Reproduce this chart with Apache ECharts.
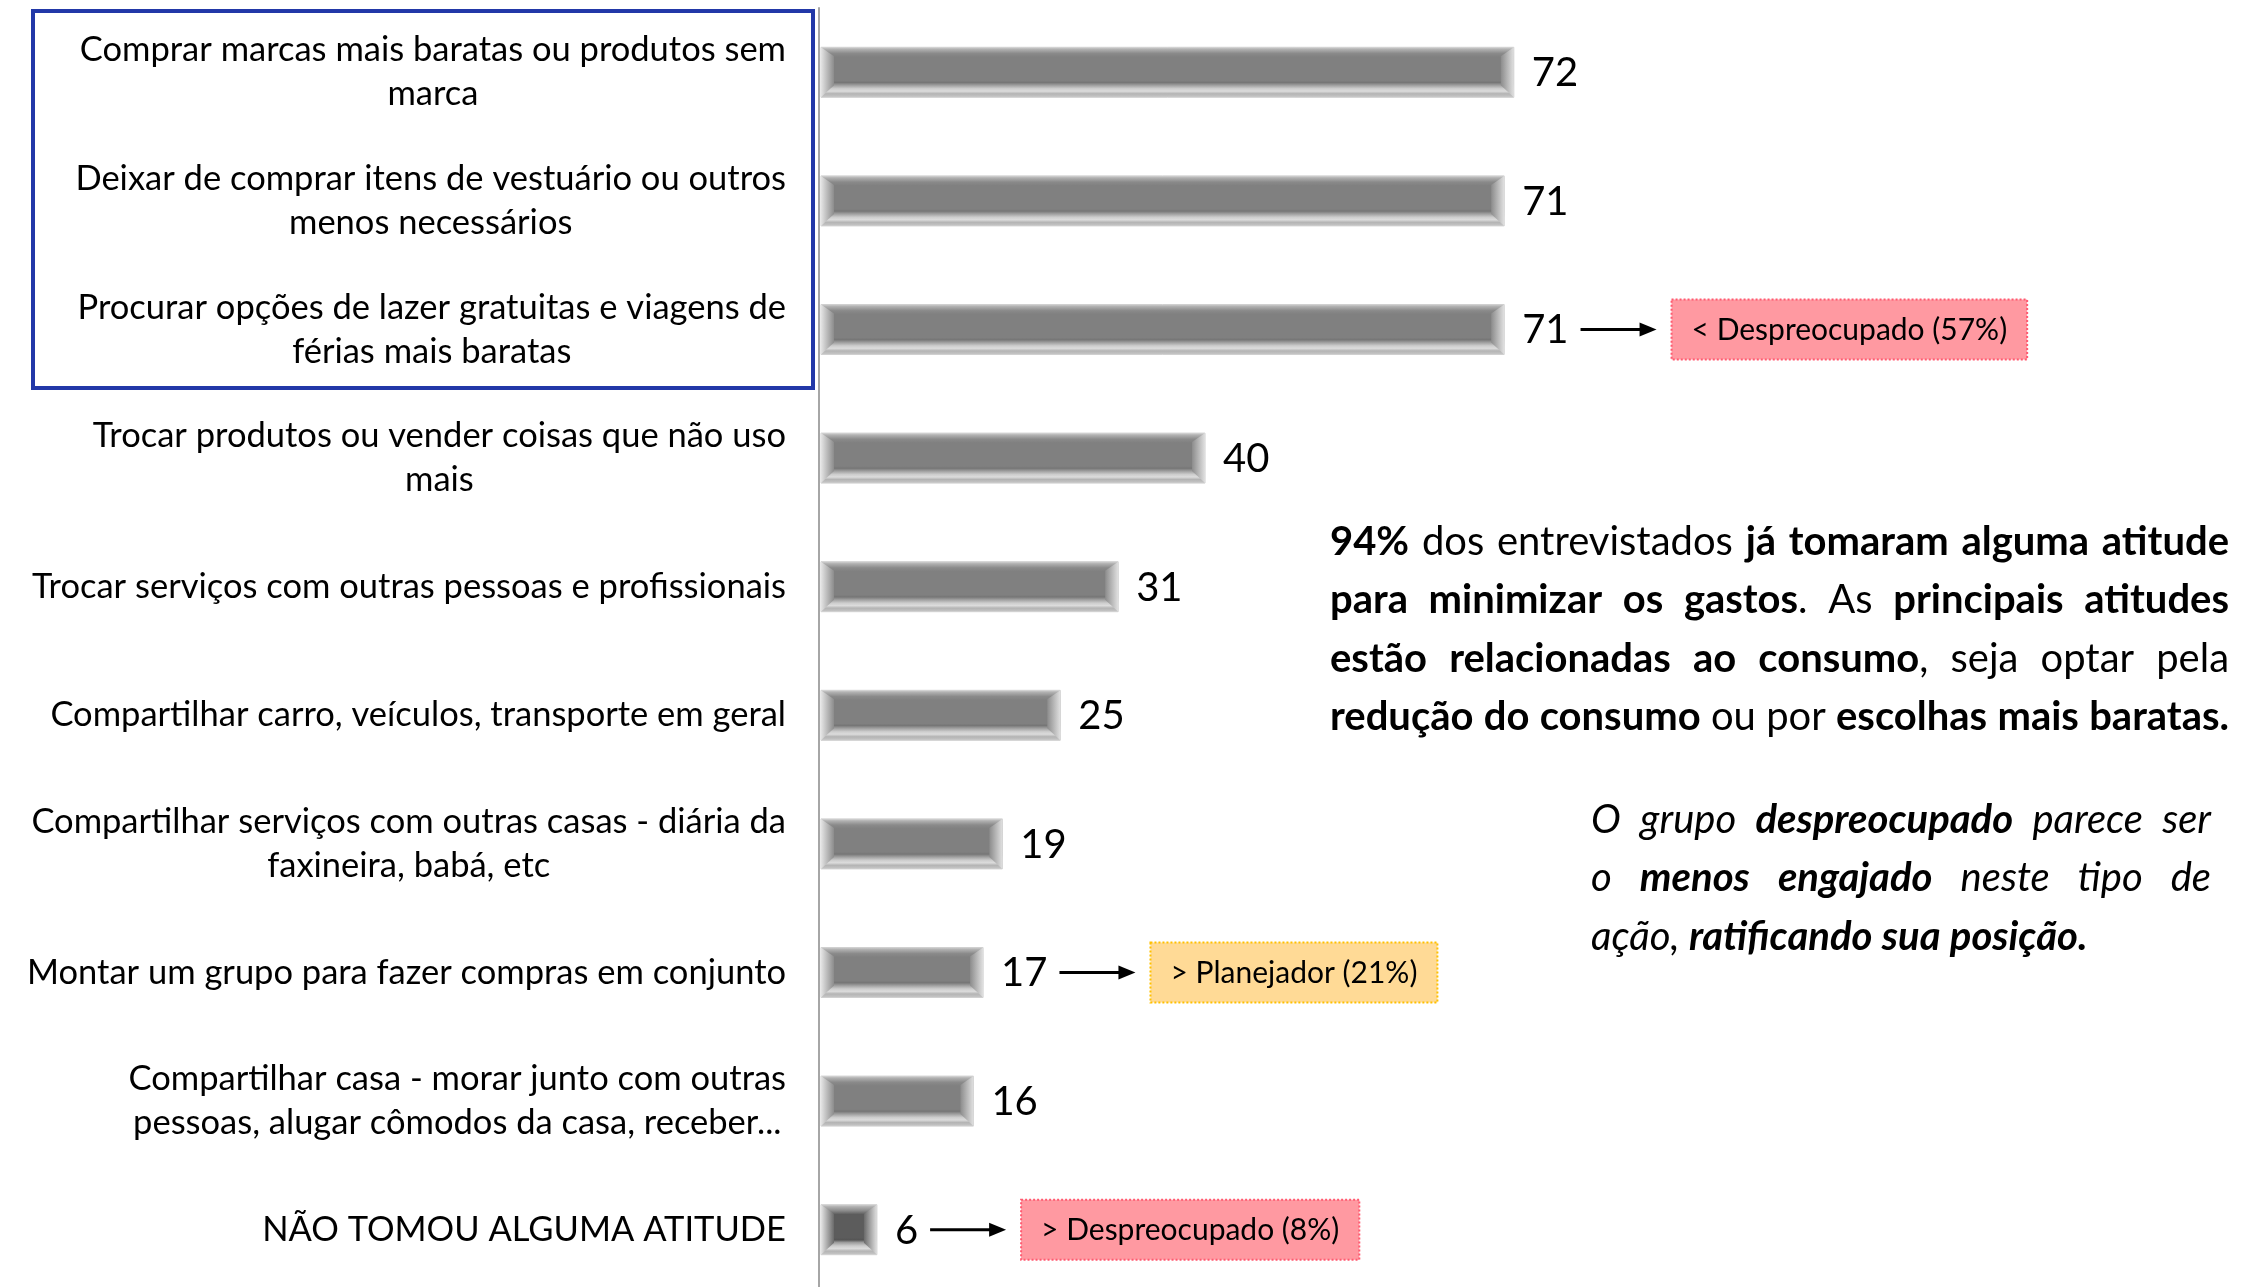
<!DOCTYPE html>
<html><head><meta charset="utf-8">
<script src="https://cdn.jsdelivr.net/npm/echarts@6/dist/echarts.min.js"></script>
<style>html,body{margin:0;padding:0;background:#fff}#c{width:2254px;height:1287px}</style>
</head><body><div id="c"></div>
<script>
const categories = [
  'Comprar marcas mais baratas ou produtos sem\nmarca',
  'Deixar de comprar itens de vestuário ou outros\nmenos necessários',
  'Procurar opções de lazer gratuitas e viagens de\nférias mais baratas',
  'Trocar produtos ou vender coisas que não uso\nmais',
  'Trocar serviços com outras pessoas e profissionais',
  'Compartilhar carro, veículos, transporte em geral',
  'Compartilhar serviços com outras casas - diária da\nfaxineira, babá, etc',
  'Montar um grupo para fazer compras em conjunto',
  'Compartilhar casa - morar junto com outras\npessoas, alugar cômodos da casa, receber...',
  'NÃO TOMOU ALGUMA ATITUDE'
];
const values = [72, 71, 71, 40, 31, 25, 19, 17, 16, 6];
const noteIndex = [2, 7, 9];
const noteText = ['< Despreocupado (57%)', '> Planejador (21%)', '> Despreocupado (8%)'];
const noteKind = ['pink', 'yellow', 'pink'];
const para1 = [
  '*94%* dos entrevistados *já tomaram alguma atitude*',
  '*para minimizar os gastos*. As *principais atitudes*',
  '*estão relacionadas ao consumo*, seja optar pela',
  '*redução do consumo* ou por *escolhas mais baratas.*'
];
const para2 = [
  'O grupo *despreocupado* parece ser',
  'o *menos engajado* neste tipo de',
  'ação, *ratificando sua posição.*'
];

const FONT = 'Lato, "Open Sans", sans-serif';
const mctx = document.createElement('canvas').getContext('2d');
function tw(t, f) { mctx.font = f; return mctx.measureText(t).width; }
function fontStr(size, bold, italic) { return (italic ? 'italic ' : '') + (bold ? 'bold ' : '') + size + 'px ' + FONT; }

const noteStyles = {
  pink: { fill: '#ff99a1', stroke: '#ff5a70' },
  yellow: { fill: '#ffda96', stroke: '#ffc000' }
};

function barGrad(dark) {
  const c = dark ? '#5c5c5c' : '#808080';
  const d = dark ? '#555555' : '#767676';
  return new echarts.graphic.LinearGradient(0, 0, 0, 1, [
    { offset: 0, color: '#d8d8d8' }, { offset: 0.05, color: '#b0b0b0' },
    { offset: 0.13, color: '#8a8a8a' }, { offset: 0.2, color: c },
    { offset: 0.66, color: c }, { offset: 0.7, color: d },
    { offset: 0.75, color: '#9c9c9c' }, { offset: 0.82, color: '#cdcdcd' },
    { offset: 0.87, color: '#dcdcdc' }, { offset: 0.92, color: '#b4b4b4' },
    { offset: 1, color: '#cacaca' }
  ]);
}
function hGrad(a, b) {
  return new echarts.graphic.LinearGradient(0, 0, 1, 0, [{ offset: 0, color: a }, { offset: 1, color: b }]);
}

function renderItem(params, api) {
  const v = api.value(0), idx = api.value(1);
  const s = api.coord([0, idx]), e = api.coord([v, idx]);
  const yc = s[1], half = 25;
  const x0 = s[0] + 2, x1 = e[0], y0 = yc - half, y1 = yc + half;
  const w = x1 - x0, h = y1 - y0;
  const dark = w < 90;
  const bw = 13, bt = 5, bb = 12;
  const ch = [];
  ch.push({ type: 'rect', shape: { x: x0, y: y0, width: w, height: h }, style: { fill: barGrad(dark), stroke: '#d0d0d0', lineWidth: 1 } });
  ch.push({ type: 'polygon', shape: { points: [[x0, y0], [x0 + bw, y0 + bt + 4], [x0 + bw, y1 - bb], [x0, y1]] },
    style: { fill: hGrad('#e4e4e4', dark ? '#6a6a6a' : '#8c8c8c') } });
  ch.push({ type: 'polygon', shape: { points: [[x1, y0], [x1 - bw, y0 + bt + 4], [x1 - bw, y1 - bb], [x1, y1]] },
    style: { fill: hGrad(dark ? '#6a6a6a' : '#8c8c8c', '#e0e0e0') } });
  const vf = fontStr(40, false, false);
  const lx = x1 + 18;
  ch.push({ type: 'text', x: lx, y: yc + 1, style: { text: String(v), font: vf, fill: '#000', align: 'left', textAlign: 'left', verticalAlign: 'middle', textVerticalAlign: 'middle' } });
  const ni = noteIndex.indexOf(params.dataIndex);
  if (ni >= 0) {
    const ax0 = lx + tw(String(v), vf) + 12, ax1 = ax0 + 76;
    ch.push({ type: 'line', shape: { x1: ax0, y1: yc, x2: ax1 - 12, y2: yc }, style: { stroke: '#000', lineWidth: 3 } });
    ch.push({ type: 'polygon', shape: { points: [[ax1 - 17, yc - 7], [ax1, yc], [ax1 - 17, yc + 7]] }, style: { fill: '#000' } });
    const nf = fontStr(30, false, false);
    const tW = tw(noteText[ni], nf);
    const bx = ax1 + 15, bwid = tW + 40;
    const st = noteStyles[noteKind[ni]];
    ch.push({ type: 'rect', shape: { x: bx, y: yc - 30, width: bwid, height: 60 }, style: { fill: st.fill, stroke: st.stroke, lineWidth: 2, lineDash: [2, 2] } });
    ch.push({ type: 'text', x: bx + bwid / 2, y: yc + 1, style: { text: noteText[ni], font: nf, fill: '#000', align: 'center', textAlign: 'center', verticalAlign: 'middle', textVerticalAlign: 'middle' } });
  }
  return { type: 'group', children: ch };
}

function parseLine(line, size, italic) {
  let bold = false;
  return line.split(' ').map(wd => {
    const pieces = []; let cur = '';
    for (const c of wd) {
      if (c === '*') { if (cur) pieces.push({ t: cur, b: bold }); cur = ''; bold = !bold; }
      else cur += c;
    }
    if (cur) pieces.push({ t: cur, b: bold });
    pieces.forEach(p => { p.font = fontStr(size, p.b, italic); p.w = tw(p.t, p.font); });
    return { pieces, w: pieces.reduce((a, p) => a + p.w, 0) };
  });
}
function naturalWidth(line, size, italic) {
  const ws = parseLine(line, size, italic);
  return ws.reduce((a, w) => a + w.w, 0) + (ws.length - 1) * tw(' ', fontStr(size, false, italic));
}
function fitSize(line, italic, target) {
  return 100 * target / naturalWidth(line, 100, italic);
}

function buildPara(lines, x0, x1, yStart, lh, size, italic, justifyLast) {
  const els = [];
  lines.forEach((line, li) => {
    const words = parseLine(line, size, italic);
    const total = words.reduce((a, w) => a + w.w, 0);
    const isLast = li === lines.length - 1;
    const sp = tw(' ', fontStr(size, false, italic));
    const gap = (isLast && !justifyLast) ? sp : Math.max(sp * 0.6, (x1 - x0 - total) / (words.length - 1));
    let x = x0; const y = yStart + li * lh;
    words.forEach(w => {
      w.pieces.forEach(p => {
        els.push({ type: 'text', x: x, y: y, style: { text: p.t, font: p.font, fill: '#000', verticalAlign: 'middle', textVerticalAlign: 'middle' } });
        x += p.w;
      });
      x += gap;
    });
  });
  return els;
}

const p1Size = Math.min(40, fitSize(para1[3], false, 2229 - 1330));
const p2Size = Math.min(40, fitSize(para2[2], true, 2112 - 1591));

const chart = echarts.init(document.getElementById('c'));
const graphics = [
  { type: 'rect', shape: { x: 33, y: 11, width: 780, height: 377 }, style: { fill: 'none', stroke: '#2238a8', lineWidth: 4 }, z: 10 }
].concat(buildPara(para1, 1330, 2229, 542, 58.5, p1Size, false, true))
 .concat(buildPara(para2, 1591, 2211, 820, 58.5, p2Size, true, false));

chart.setOption({
  animation: false,
  backgroundColor: '#fff',
  grid: { left: 819, top: 8, width: 965, height: 1286, containLabel: false, outerBoundsMode: 'none' },
  xAxis: { type: 'value', min: 0, max: 100, show: false },
  yAxis: {
    type: 'category', data: categories, inverse: true,
    axisLine: { lineStyle: { color: '#a6a6a6', width: 2 } },
    axisTick: { length: 11, lineStyle: { color: '#a6a6a6', width: 2 } },
    axisLabel: {
      margin: 33, interval: 0,
      formatter: v => v.split('\n').map(l => '{c|' + l + '}').join('\n'),
      rich: { c: { align: 'center', fontSize: 34.5, fontFamily: FONT, color: '#000', lineHeight: 44 } }
    }
  },
  series: [{
    type: 'custom', clip: false,
    renderItem: renderItem,
    encode: { x: 0, y: 1 },
    data: values.map((v, i) => [v, i])
  }],
  graphic: graphics
});
</script></body></html>
